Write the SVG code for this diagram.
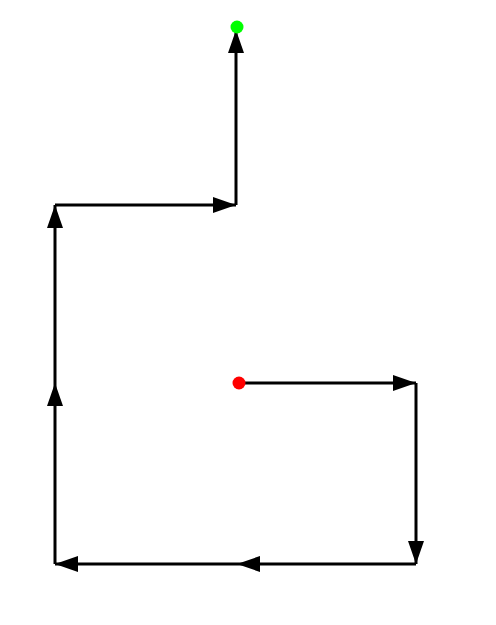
<svg xmlns="http://www.w3.org/2000/svg" width="496" height="625" viewBox="0 0 496 625">
<style>
.seg{fill:none;stroke:#000;stroke-width:3;marker-end:url(#ah)}
</style>
<defs>
<marker id="ah" viewBox="0 0 23 16" refX="23" refY="8" markerWidth="23" markerHeight="16" markerUnits="userSpaceOnUse" orient="auto">
<path d="M0,0 L23,8 L0,16 z" fill="#000"/>
</marker>
</defs>
<rect width="496" height="625" fill="#fff"/>
<g id="connectors">
<path class="seg" d="M239,383 L416,383"/>
<path class="seg" d="M416,383 L416,564"/>
<path class="seg" d="M416,564 L237,564"/>
<path class="seg" d="M237,564 L55,564"/>
<path class="seg" d="M55,564 L55,383"/>
<path class="seg" d="M55,383 L55,205"/>
<path class="seg" d="M55,205 L236,205"/>
<path class="seg" d="M236,205 L236,30"/>
</g>
<g id="start"><circle cx="239" cy="383" r="6.5" fill="#f00"/></g>
<g id="end"><circle cx="237" cy="27" r="6.5" fill="#0f0"/></g>
</svg>
